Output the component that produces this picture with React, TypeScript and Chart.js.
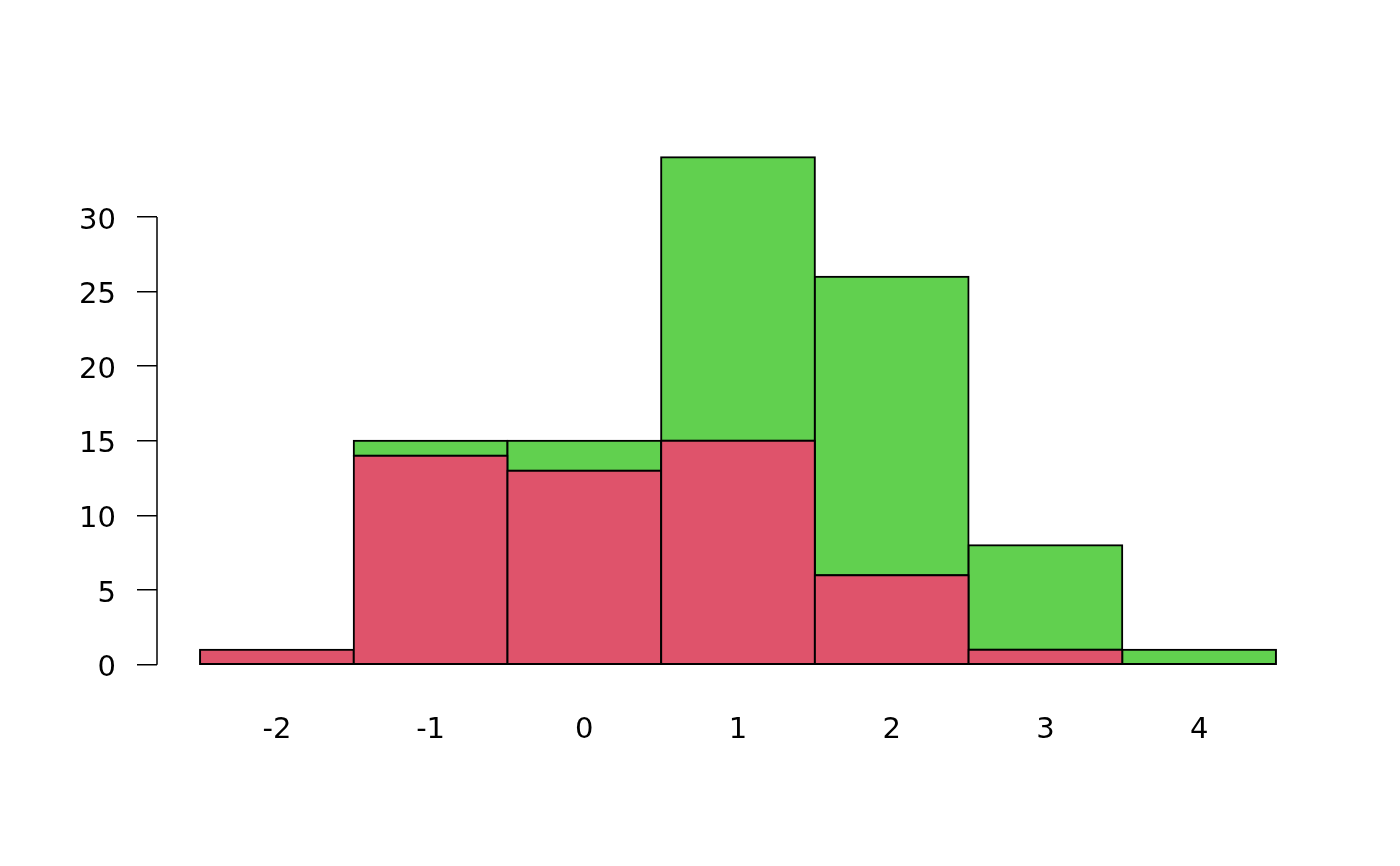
import React, { useEffect, useRef } from "react";
import { Chart, registerables } from "chart.js";

Chart.register(...registerables);

const categories = [-2, -1, 0, 1, 2, 3, 4];
const redValues = [1, 14, 13, 15, 6, 1, null];
const greenValues = [null, 1, 2, 19, 20, 7, 1];
const yTicks = [0, 5, 10, 15, 20, 25, 30];

const FONT = "'DejaVu Sans', sans-serif";
const FONT_SIZE = 29;

const yAxisPlugin = {
  id: "yAxisPlugin",
  afterDraw(chart: any) {
    const y = chart.scales.y;
    const ctx = chart.ctx;
    const x = chart.chartArea.left;
    ctx.save();
    ctx.strokeStyle = "#000";
    ctx.lineWidth = 1.5;
    ctx.beginPath();
    ctx.moveTo(x, y.getPixelForValue(yTicks[0]));
    ctx.lineTo(x, y.getPixelForValue(yTicks[yTicks.length - 1]));
    ctx.stroke();
    ctx.fillStyle = "#000";
    ctx.font = `${FONT_SIZE}px ${FONT}`;
    ctx.textAlign = "right";
    ctx.textBaseline = "alphabetic";
    const digitHalf = (0.729 * FONT_SIZE) / 2;
    yTicks.forEach((v) => {
      ctx.fillText(String(v), x - 41, y.getPixelForValue(v) + digitHalf + 1);
    });
    ctx.restore();
  },
};

export default function App() {
  const ref = useRef<HTMLCanvasElement>(null);
  useEffect(() => {
    const chart = new Chart(ref.current as HTMLCanvasElement, {
      type: "bar",
      data: {
        datasets: [
          {
            data: categories.map((c, i) => ({ x: c, y: redValues[i] })) as any,
            backgroundColor: "#DF536B",
            borderColor: "#000",
            borderWidth: 2,
            inflateAmount: 1,
            borderSkipped: false,
            barPercentage: 1,
            categoryPercentage: 1,
          },
          {
            data: categories.map((c, i) => ({ x: c, y: greenValues[i] })) as any,
            backgroundColor: "#61D04F",
            borderColor: "#000",
            borderWidth: 2,
            inflateAmount: 1,
            borderSkipped: false,
            barPercentage: 1,
            categoryPercentage: 1,
          },
        ],
      },
      options: {
        animation: false,
        responsive: false,
        layout: { padding: { top: 137, right: 81, left: 0, bottom: 0 } },
        plugins: { legend: { display: false }, tooltip: { enabled: false } },
        scales: {
          x: {
            type: "linear",
            stacked: true,
            min: -2.78,
            max: 4.78,
            offset: false,
            border: { display: false },
            grid: { display: false, drawTicks: false },
            afterBuildTicks: (s: any) => {
              s.ticks = categories.map((v) => ({ value: v }));
            },
            afterFit: (s: any) => {
              s.height = 181;
            },
            ticks: {
              color: "#000",
              font: { family: FONT, size: FONT_SIZE },
              padding: 28,
              maxRotation: 0,
              autoSkip: false,
              callback: (v: any) => String(v),
            },
          },
          y: {
            stacked: true,
            min: -1.36,
            max: 35.36,
            border: { display: false },
            grid: {
              drawOnChartArea: false,
              drawTicks: true,
              tickLength: 20,
              color: "#000",
              lineWidth: 1.5,
            },
            afterBuildTicks: (s: any) => {
              s.ticks = yTicks.map((v) => ({ value: v }));
            },
            afterFit: (s: any) => {
              s.width = 157;
            },
            ticks: {
              display: false,
            },
          },
        },
      },
      plugins: [yAxisPlugin],
    });
    return () => chart.destroy();
  }, []);
  return (
    <div style={{ position: "absolute", left: 0, top: 0, width: 1400, height: 866, background: "#fff" }}>
      <canvas ref={ref} width={1400} height={866} style={{ display: "block" }} />
    </div>
  );
}
